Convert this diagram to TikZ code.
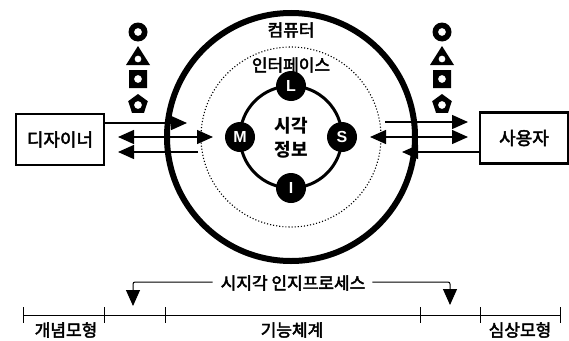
\documentclass[tikz,border=0pt]{standalone}
\usepackage{fontspec}
\setmainfont{Noto Sans CJK KR}
\newfontfamily\latinsans{Liberation Sans}
\newcommand\thicktext[1]{\special{pdf:literal direct 2 Tr 0.45 w}#1\special{pdf:literal direct 0 Tr}}
\usetikzlibrary{arrows.meta}
\begin{document}
\begin{tikzpicture}[x=1pt,y=-1pt,
  kr/.style={font=\fontsize{17}{20}\selectfont, inner sep=1pt},
  box/.style={draw, line width=2.2pt, minimum width=88pt, minimum height=51pt, font=\fontsize{18}{20}\selectfont},
  letter/.style={circle, fill=black, minimum size=30pt, inner sep=0pt, text=white, font=\latinsans\bfseries\fontsize{16}{16}\selectfont},
  arr/.style={line width=1.4pt, -{Triangle[length=16pt,width=14pt]}},
  darr/.style={line width=1.4pt, {Triangle[length=16pt,width=14pt]}-{Triangle[length=16pt,width=14pt]}},
  scaleline/.style={line width=0.9pt},
  procarr/.style={line width=1pt, rounded corners=2pt, -{Triangle[length=16pt,width=14pt]}}
]
\useasboundingbox (0,0) rectangle (569,340);

% circles
\coordinate (c) at (291,137);
\draw[line width=6pt] (c) circle (124pt);
\draw[dotted, line width=1.1pt] (c) circle (90pt);
\draw[line width=3pt] (c) circle (51pt);

\node[kr] (comp) at (291,30) {\thicktext{컴퓨터}};
\node[kr] (intf) at (291,65) {\thicktext{인터페이스}};
\node[font=\bfseries\fontsize{18}{24}\selectfont, align=center, inner sep=0pt] (vis) at (291,138) {시각\\정보};

\node[letter] (L) at (291,86) {L};
\node[letter] (M) at (240,137) {M};
\node[letter] (S) at (342,137) {S};
\node[letter] (I) at (291,188) {I};

% boxes
\node[box] (des) at (60,139.5) {\thicktext{디자이너}};
\node[box] (usr) at (524,138) {\thicktext{사용자}};

% symbols left and right
\foreach \sx/\nm in {138/l,442/r}{
  \fill[even odd rule] (\sx,32) circle (9.5pt) (\sx,32) circle (4pt);
  \fill[even odd rule] (\sx-12,65) -- (\sx,46) -- (\sx+12,65) -- cycle (\sx,59) circle (3.5pt);
  \fill[even odd rule] (\sx-9,70) rectangle (\sx+9,88) (\sx,79) circle (4pt);
  \fill[even odd rule] (\sx,94) -- (\sx+9.8,101.2) -- (\sx+6,112.8) -- (\sx-6,112.8) -- (\sx-9.8,101.2) -- cycle (\sx,105) circle (4pt);
}

% left arrows
\coordinate (la1s) at (des.east |- 0,123);
\coordinate (la1e) at (187,123);
\coordinate (la2s) at (118,137);
\coordinate (la2e) at (213,137);
\coordinate (la3s) at (198,152);
\coordinate (la3e) at (118,152);
\draw[arr] (la1s) -- (la1e);
\draw[darr] (la2s) -- (la2e);
\draw[arr] (la3s) -- (la3e);

% right arrows
\coordinate (ra1s) at (385,122);
\coordinate (ra1e) at (468,122);
\coordinate (ra2s) at (370,137);
\coordinate (ra2e) at (468,137);
\coordinate (ra3s) at (usr.west |- 0,152);
\coordinate (ra3e) at (402,152);
\draw[arr] (ra1s) -- (ra1e);
\draw[darr] (ra2s) -- (ra2e);
\draw[arr] (ra3s) -- (ra3e);

% process label and arrows
\node[kr, inner sep=0pt] (proc) at (293,283) {\thicktext{시지각 인지프로세스}};
\coordinate (pl) at (133,306);
\coordinate (pr) at (450,305);
\draw[procarr] ([xshift=-8pt,yshift=1pt]proc.west) -| (pl);
\draw[procarr] ([xshift=7pt,yshift=1pt]proc.east) -| (pr);

% scale
\draw[scaleline] (23,315) -- (560,315);
\foreach \tx in {23,104,165,420,480,560}{
  \draw[scaleline] (\tx,307) -- (\tx,323);
}
\node[kr] (m1) at (66,330) {\thicktext{개념모형}};
\node[kr] (m2) at (292,330) {\thicktext{기능체계}};
\node[kr] (m3) at (520,330) {\thicktext{심상모형}};
\end{tikzpicture}
\end{document}
